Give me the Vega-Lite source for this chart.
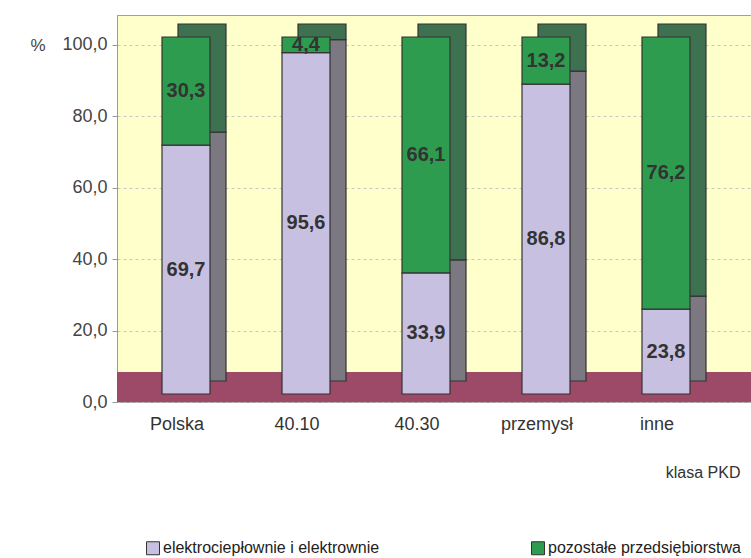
{
  "$schema": "https://vega.github.io/schema/vega-lite/v6.json",
  "autosize": "none",
  "width": 634,
  "height": 387,
  "padding": {"left": 117, "top": 15, "right": 0, "bottom": 156},
  "background": "white",
  "config": {
    "locale": {"number": {"decimal": ",", "thousands": " ", "grouping": [3], "currency": ["", " zł"]}},
    "font": "Liberation Sans",
    "view": {"fill": "#FFFFCC", "stroke": "#a0a0a0", "strokeWidth": 1}
  },
  "data": {
    "values": [
      {"klasa": "Polska", "series": "elektrociepłownie i elektrownie", "value": 69.7},
      {"klasa": "Polska", "series": "pozostałe przedsiębiorstwa", "value": 30.3},
      {"klasa": "40.10", "series": "elektrociepłownie i elektrownie", "value": 95.6},
      {"klasa": "40.10", "series": "pozostałe przedsiębiorstwa", "value": 4.4},
      {"klasa": "40.30", "series": "elektrociepłownie i elektrownie", "value": 33.9},
      {"klasa": "40.30", "series": "pozostałe przedsiębiorstwa", "value": 66.1},
      {"klasa": "przemysł", "series": "elektrociepłownie i elektrownie", "value": 86.8},
      {"klasa": "przemysł", "series": "pozostałe przedsiębiorstwa", "value": 13.2},
      {"klasa": "inne", "series": "elektrociepłownie i elektrownie", "value": 23.8},
      {"klasa": "inne", "series": "pozostałe przedsiębiorstwa", "value": 76.2}
    ]
  },
  "encoding": {
    "x": {
      "field": "klasa", "type": "nominal", "sort": null,
      "scale": {"paddingInner": 0, "paddingOuter": 0.1417, "align": 0},
      "axis": {
        "title": "klasa PKD", "titleX": 623, "titleY": 70, "titleAlign": "right", "titleBaseline": "middle",
        "titleFontSize": 16, "titleFontWeight": "normal", "titleColor": "#333",
        "labelAngle": 0, "labelFontSize": 18, "labelColor": "#333", "labelPadding": 13,
        "domain": false, "ticks": false
      }
    },
    "order": {"field": "series", "sort": "ascending"}
  },
  "resolve": {"scale": {"color": "independent"}, "legend": {"color": "independent"}},
  "layer": [
    {
      "data": {"values": [{}]},
      "mark": {"type": "rect", "color": "#9C4A68"},
      "encoding": {
        "x": null,
        "order": null,
        "y": {"datum": 0, "type": "quantitative"},
        "y2": {"datum": 8.4}
      }
    },
    {
      "mark": {"type": "bar", "size": 48, "xOffset": 25, "yOffset": -21, "y2Offset": -21, "stroke": "#333", "strokeWidth": 1.2},
      "encoding": {
        "y": {"field": "value", "type": "quantitative", "stack": "zero"},
        "color": {"field": "series", "type": "nominal", "scale": {"domain": ["elektrociepłownie i elektrownie", "pozostałe przedsiębiorstwa"], "range": ["#7B7882", "#3E7150"]}, "legend": null}
      }
    },
    {
      "mark": {"type": "bar", "size": 48, "xOffset": 9, "yOffset": -8, "y2Offset": -8, "stroke": "#333", "strokeWidth": 1.2},
      "encoding": {
        "y": {
          "field": "value", "type": "quantitative", "stack": "zero",
          "scale": {"domain": [0, 108.4], "nice": false},
          "axis": {
            "values": [0, 20, 40, 60, 80, 100], "format": ".1f",
            "title": "%", "titleAngle": 0, "titleX": -87, "titleY": 30, "titleAlign": "left", "titleBaseline": "middle",
            "titleFontSize": 17, "titleFontWeight": "normal", "titleColor": "#444",
            "labelFontSize": 18, "labelColor": "#444", "labelPadding": 5,
            "domainColor": "#999", "tickColor": "#999", "tickSize": 5,
            "grid": true, "gridColor": "#bbb", "gridDash": [3, 3], "gridOpacity": 0.8
          }
        },
        "color": {
          "field": "series", "type": "nominal",
          "scale": {"domain": ["elektrociepłownie i elektrownie", "pozostałe przedsiębiorstwa"], "range": ["#C8C0E0", "#2E9C4F"]},
          "legend": {
            "orient": "none", "direction": "horizontal", "legendX": 28, "legendY": 525,
            "title": null, "symbolType": "square", "symbolSize": 169, "symbolStrokeColor": "#333", "symbolStrokeWidth": 1,
            "labelFontSize": 16, "labelColor": "#222", "columnPadding": 149, "labelOffset": 2, "labelLimit": 400
          }
        }
      }
    },
    {
      "mark": {"type": "text", "xOffset": 9, "yOffset": -8, "fontSize": 20, "fontWeight": "bold", "color": "#333", "baseline": "middle"},
      "encoding": {
        "y": {"field": "value", "type": "quantitative", "stack": "zero", "bandPosition": 0.5},
        "text": {"field": "value", "type": "quantitative", "format": ".1f"},
        "detail": {"field": "series"}
      }
    }
  ]
}
